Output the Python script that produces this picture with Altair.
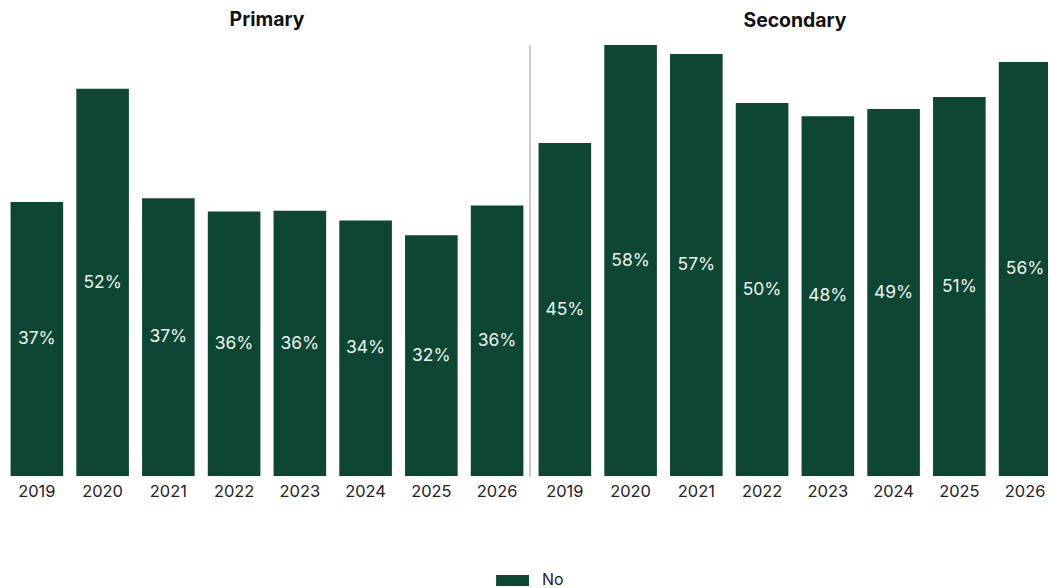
import altair as alt
import pandas as pd

years = ["2019", "2020", "2021", "2022", "2023", "2024", "2025", "2026"]
primary = [36.9, 52.1, 37.4, 35.6, 35.7, 34.4, 32.4, 36.4]
secondary = [44.8, 58.0, 56.8, 50.2, 48.4, 49.4, 51.0, 55.7]
levels = ["Primary", "Secondary"]
answer = "No"

GREEN = "#0d4733"
H = 433
FONT = "Inter"


def frame(vals, lvl):
    return pd.DataFrame({"year": years, "value": vals, "level": lvl, "answer": answer})


def panel(df, title, width, xrange=None, title_dx=0, separator=False):
    sc = dict(paddingInner=0.2, paddingOuter=0.1)
    if xrange is not None:
        sc["range"] = xrange
    x = alt.X("year:N", sort=years, title=None, scale=alt.Scale(**sc), axis=None)
    ysc = alt.Scale(domain=[0, 58], nice=False)
    bars = alt.Chart(df).mark_bar(clip=True).encode(
        x=x,
        y=alt.Y("value:Q", scale=ysc, axis=None),
        color=alt.Color("answer:N", scale=alt.Scale(domain=[answer], range=[GREEN]),
                        legend=alt.Legend(title=None, orient="none", legendX=494, legendY=521,
                                          symbolType="M-1,-0.333H1V0.333H-1Z", symbolSize=1089,
                                          symbolStrokeWidth=0, labelFontSize=16, labelFont=FONT,
                                          labelColor="#222222", labelOffset=13)),
    )
    labels = alt.Chart(df).transform_calculate(
        mid="datum.value / 2",
        lab="format(datum.value, '.0f') + '%'",
    ).mark_text(color="#eef3ef", fontSize=17.5, font=FONT).encode(
        x=x,
        y=alt.Y("mid:Q", scale=ysc, axis=None),
        text="lab:N",
    )
    yearlab = alt.Chart(df).mark_text(
        color="#222222", fontSize=16.5, font=FONT, baseline="top"
    ).encode(x=x, y=alt.value(H + 8), text="year:N")
    layers = [bars, labels, yearlab]
    if separator:
        sep = alt.Chart(df).mark_rule(color="#cccccc", strokeWidth=1).encode(
            x=alt.value(width), y=alt.value(0), y2=alt.value(H)
        )
        layers.append(sep)
    return alt.layer(*layers).properties(
        width=width, height=H,
        title=alt.TitleParams(title, fontSize=19.5, fontWeight="bold", font=FONT,
                              color="#111111", anchor="middle", offset=14, dx=title_dx),
    )


p1 = panel(frame(primary, "Primary"), "Primary", 528, separator=True)
p2 = panel(frame(secondary, "Secondary"), "Secondary", 518, xrange=[0, 528], title_dx=5)

chart = alt.hconcat(p1, p2, spacing=0).properties(
    padding={"left": 3, "top": 8, "right": 0, "bottom": 0}
).configure_view(stroke="transparent")

chart.save("out.html", embed_options={"renderer": "svg", "actions": False})
